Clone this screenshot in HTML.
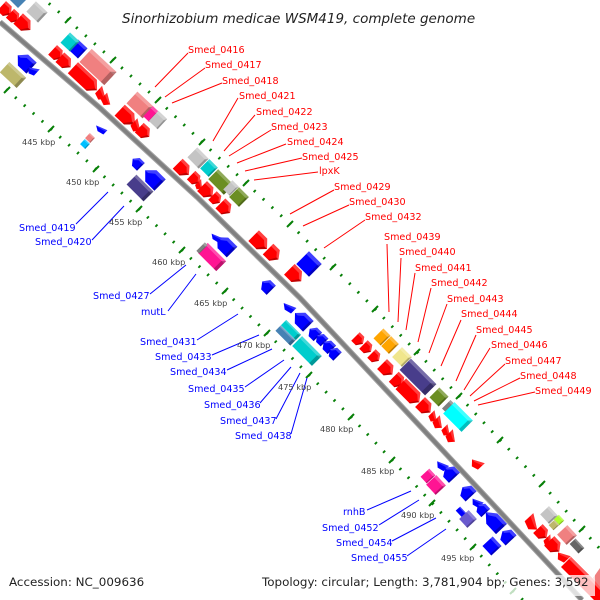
<!DOCTYPE html>
<html><head><meta charset="utf-8"><style>
html,body{margin:0;padding:0;background:#fff;width:600px;height:600px;overflow:hidden}
svg{display:block}
text{font-family:"DejaVu Sans","Liberation Sans",sans-serif}
.r text{font-size:9.6px;fill:#f00}
.b text{font-size:9.6px;fill:#00f}
.k text{font-size:8.2px;fill:#444}
</style></head><body>
<svg width="600" height="600" viewBox="0 0 600 600" xmlns="http://www.w3.org/2000/svg">
<defs>
<g id="x"><rect x="-.5" y="-.5" width="1" height="1" fill="currentColor"/><polygon points="-.5,-.5 .5,-.5 .5,-.28 -.5,-.28" fill="#fff" opacity=".25"/><polygon points=".5,-.5 .5,.5 .36,.5 .36,-.28" fill="#000" opacity=".25"/></g>
<g id="a"><polygon points="-.5,-.5 .15,-.5 .55,0 .15,.5 -.5,.5" fill="currentColor"/><polygon points="-.5,-.5 .15,-.5 .55,0 .35,0 .08,-.28 -.5,-.28" fill="#fff" opacity=".25"/><polygon points=".55,0 .15,.5 .05,.5 .35,0" fill="#000" opacity=".25"/></g>
<g id="f"><polygon points=".5,-.5 -.15,-.5 -.55,0 -.15,.5 .5,.5" fill="currentColor"/><polygon points=".5,-.5 -.15,-.5 -.55,0 -.35,0 -.08,-.28 .5,-.28" fill="#fff" opacity=".25"/><polygon points=".5,-.5 .5,.5 .36,.5 .36,-.28" fill="#000" opacity=".25"/></g>
<g id="L"><polygon points="-.5,-.5 .28,-.5 .5,0 .28,.5 -.5,.5" fill="currentColor"/><polygon points="-.5,-.5 .28,-.5 .5,0 .42,0 .24,-.28 -.5,-.28" fill="#fff" opacity=".25"/><polygon points=".5,0 .28,.5 .22,.5 .42,0" fill="#000" opacity=".25"/></g>
<g id="t"><polygon points="-.5,-.5 .55,.1 .1,.55 -.5,.35" fill="currentColor"/><polygon points="-.5,-.5 .55,.1 .25,.1 -.5,-.2" fill="#fff" opacity=".2"/></g>
<g id="u"><polygon points=".5,-.5 -.55,.1 -.1,.55 .5,.35" fill="currentColor"/><polygon points=".5,-.5 -.55,.1 -.25,.1 .5,-.2" fill="#fff" opacity=".2"/></g>
</defs>

<polyline points="0,22 100,108 197,197 300,298 433,440 557,573 582,600" fill="none" stroke="#a4a4a4" stroke-width="5.6"/>
<polyline points="0,22 100,108 197,197 300,298 433,440 557,573 582,600" fill="none" stroke="#808080" stroke-width="3.6"/>

<g fill="none" stroke="#088008">
<polyline points="45,0 68,20 113,60 158,100 202,142 246,183 290,224 333,267 375,309 417,352 459,396 500,440 542,484 582,529 600,549" pathLength="64.7" stroke-width="3" stroke-dasharray=".16 .84" stroke-dashoffset=".58"/>
<polyline points="0,84 7,90 51,129 96,169 139,209 182,250 225,291 267,333 309,375 351,417 392,460 432,503 473,547 513,591 523,600" pathLength="61.86" stroke-width="3" stroke-dasharray=".16 .84" stroke-dashoffset=".32"/>
<path stroke-width="2" d="M65,23l6,-6M110,63l6,-6M155,103l6,-6M199,145l6,-6M243,186l6,-6M287,227l6,-6M330,270l6,-6M372,312l6,-6M414,355l6,-6M456,399l6,-6M497,443l6,-6M539,487l6,-6M579,532l6,-6M4,93l6,-6M48,132l6,-6M93,172l6,-6M136,212l6,-6M179,253l6,-6M222,294l6,-6M264,336l6,-6M306,378l6,-6M348,420l6,-6M389,463l6,-6M429,506l6,-6M470,550l6,-6M510,594l6,-6"/>
</g>

<!-- red genes -->
<g color="#f00">
<use href="#a" transform="translate(6 10) rotate(43) scale(12 13)"/>
<use href="#a" transform="translate(14 17) rotate(43) scale(11 12)"/>
<use href="#a" transform="translate(24 24) rotate(43) scale(16 14)"/>
<use href="#a" transform="translate(57 54) rotate(43) scale(12 13)"/>
<use href="#a" transform="translate(65 62) rotate(43) scale(14 13)"/>
<use href="#L" transform="translate(85 79) rotate(43) scale(33 15)"/>
<use href="#t" transform="translate(102 94) rotate(43) scale(11 12)"/>
<use href="#t" transform="translate(107 100) rotate(43) scale(10 11)"/>
<use href="#a" transform="translate(127 117) rotate(43) scale(20 15)"/>
<use href="#t" transform="translate(137 126) rotate(43) scale(10 12)"/>
<use href="#a" transform="translate(144 132) rotate(43) scale(13 13)"/>
<use href="#a" transform="translate(183 169) rotate(45) scale(15 14)"/>
<use href="#a" transform="translate(195 179) rotate(45) scale(11 12)"/>
<use href="#t" transform="translate(200 185) rotate(45) scale(7 10)"/>
<use href="#a" transform="translate(207 191) rotate(45) scale(14 14)"/>
<use href="#a" transform="translate(216 199) rotate(45) scale(10 12)"/>
<use href="#a" transform="translate(225 208) rotate(45) scale(13 14)"/>
<use href="#a" transform="translate(260 242) rotate(45) scale(18 15)"/>
<use href="#a" transform="translate(273 254) rotate(45) scale(14 15)"/>
<use href="#a" transform="translate(295 275) rotate(45) scale(16 15)"/>
<use href="#a" transform="translate(359 340) rotate(45) scale(10 12)"/>
<use href="#a" transform="translate(367 348) rotate(45) scale(10 12)"/>
<use href="#a" transform="translate(375 357) rotate(45) scale(10 12)"/>
<use href="#a" transform="translate(387 369) rotate(45) scale(14 14)"/>
<use href="#a" transform="translate(398 381) rotate(45) scale(12 14)"/>
<use href="#L" transform="translate(410 393) rotate(45) scale(26 15)"/>
<use href="#a" transform="translate(425 407) rotate(45) scale(14 14)"/>
<use href="#t" transform="translate(434 417) rotate(46) scale(9 10)"/>
<use href="#t" transform="translate(439 423) rotate(46) scale(10 12)"/>
<use href="#t" transform="translate(447 431) rotate(46) scale(9 10)"/>
<use href="#t" transform="translate(452 437) rotate(46) scale(10 12)"/>
<use href="#u" transform="translate(477 463) rotate(47) scale(11 11)"/>
<use href="#t" transform="translate(533 523) rotate(47) scale(14 14)"/>
<use href="#a" transform="translate(542 533) rotate(47) scale(12 13)"/>
<use href="#t" transform="translate(549 541) rotate(47) scale(8 11)"/>
<use href="#a" transform="translate(554 546) rotate(47) scale(14 14)"/>
<use href="#u" transform="translate(563 556) rotate(47) scale(11 11)"/>
<polygon points="571,557 600,586 600,600 594,600 561,567" fill="#f00"/>
<polygon points="571,557 600,586 600,590 569,559" fill="#ff5c5c"/>
</g>

<!-- blue genes -->
<g color="#00f">
<use href="#x" transform="translate(78 49) rotate(43) scale(13 14)"/>
<use href="#f" transform="translate(25 62) rotate(43) scale(18 15)"/>
<use href="#u" transform="translate(33 70) rotate(43) scale(9 10)"/>
<use href="#u" transform="translate(101 129) rotate(43) scale(11 7)"/>
<use href="#f" transform="translate(137 163) rotate(45) scale(11 11)"/>
<use href="#f" transform="translate(153 178) rotate(45) scale(20 16)"/>
<use href="#f" transform="translate(225 245) rotate(45) scale(20 15)"/>
<use href="#u" transform="translate(216 237) rotate(45) scale(10 7)"/>
<use href="#f" transform="translate(267 286) rotate(45) scale(12 13)"/>
<use href="#x" transform="translate(309 264) rotate(45) scale(18 18)"/>
<use href="#u" transform="translate(289 307) rotate(45) scale(12 9)"/>
<use href="#f" transform="translate(302 320) rotate(45) scale(18 15)"/>
<use href="#f" transform="translate(314 333) rotate(45) scale(11 12)"/>
<use href="#f" transform="translate(321 339) rotate(45) scale(10 11)"/>
<use href="#f" transform="translate(328 346) rotate(45) scale(11 12)"/>
<use href="#f" transform="translate(334 353) rotate(45) scale(10 12)"/>
<use href="#u" transform="translate(442 465) rotate(47) scale(11 9)"/>
<use href="#f" transform="translate(450 473) rotate(47) scale(13 15)"/>
<use href="#f" transform="translate(467 492) rotate(47) scale(12 15)"/>
<use href="#u" transform="translate(477 502) rotate(47) scale(10 9)"/>
<use href="#f" transform="translate(482 509) rotate(47) scale(11 12)"/>
<use href="#f" transform="translate(494 521) rotate(47) scale(22 15)"/>
<use href="#f" transform="translate(507 536) rotate(47) scale(12 15)"/>
<use href="#x" transform="translate(492 546) rotate(47) scale(13 14)"/>
<use href="#x" transform="translate(462 513) rotate(47) scale(12 6)"/>
<use href="#x" color="#6a5acd" transform="translate(468 519) rotate(47) scale(12 13)"/>
</g>

<!-- boxes -->
<polygon points="10,0 26,0 18,8" fill="#4682b4"/>
<use href="#x" color="#c4c4c4" transform="translate(37 12) rotate(43) scale(16 14)"/>
<use href="#x" color="#00cdcd" transform="translate(70 42) rotate(43) scale(13 14)"/>
<use href="#x" color="#f08080" transform="translate(98 67) rotate(43) scale(34 18)"/>
<use href="#x" color="#f08080" transform="translate(140 105) rotate(43) scale(22 16)"/>
<use href="#x" color="#ff1493" transform="translate(151 114) rotate(43) scale(8 14)"/>
<use href="#x" color="#c4c4c4" transform="translate(158 120) rotate(43) scale(12 14)"/>
<use href="#x" color="#bdb76b" transform="translate(13 75) rotate(43) scale(23 14)"/>
<use href="#x" color="#00bfff" transform="translate(85 144) rotate(43) scale(7 7)"/>
<use href="#x" color="#f08080" transform="translate(90 138) rotate(43) scale(7 7)"/>
<use href="#x" color="#483d8b" transform="translate(140 188) rotate(45) scale(24 14)"/>
<use href="#x" color="#c4c4c4" transform="translate(198 158) rotate(45) scale(16 14)"/>
<use href="#x" color="#00cdcd" transform="translate(209 168) rotate(45) scale(12 13)"/>
<use href="#x" color="#6b8e23" transform="translate(221 182) rotate(45) scale(22 14)"/>
<use href="#x" color="#c4c4c4" transform="translate(231 188) rotate(45) scale(9 13)"/>
<use href="#x" color="#6b8e23" transform="translate(239 197) rotate(45) scale(14 14)"/>
<use href="#x" color="#ff1493" transform="translate(212 257) rotate(45) scale(26 14)"/>
<use href="#x" color="#808080" transform="translate(202 248) rotate(45) scale(4 12)"/>
<use href="#x" color="#00cdcd" transform="translate(307 351) rotate(45) scale(28 14)"/>
<use href="#x" color="#00cdcd" transform="translate(291 330) rotate(45) scale(21 7.5)"/>
<use href="#x" color="#4682b4" transform="translate(285.5 335.5) rotate(45) scale(21 7.5)"/>
<use href="#x" color="#ffa500" transform="translate(382 337) rotate(45) scale(10 14)"/>
<use href="#x" color="#ffa500" transform="translate(390 345) rotate(45) scale(11 14)"/>
<use href="#x" color="#f0e68c" transform="translate(402 357) rotate(45) scale(14 14)"/>
<use href="#x" color="#483d8b" transform="translate(418 377) rotate(45) scale(36 16)"/>
<use href="#x" color="#6b8e23" transform="translate(439 397) rotate(45) scale(13 14)"/>
<use href="#x" color="#808080" transform="translate(448 406) rotate(45) scale(5 12)"/>
<use href="#x" color="#00ffff" transform="translate(458 417) rotate(45) scale(26 16)"/>
<use href="#x" color="#ff1493" transform="translate(428 476) rotate(47) scale(9 12)"/>
<use href="#x" color="#ff1493" transform="translate(436 485) rotate(47) scale(14 14)"/>
<use href="#x" color="#c4c4c4" transform="translate(549 515) rotate(47) scale(13 12)"/>
<use href="#x" color="#adff2f" transform="translate(559 520) rotate(47) scale(8 7)"/>
<use href="#x" color="#bdb76b" transform="translate(554 525) rotate(47) scale(7 8)"/>
<use href="#x" color="#f08080" transform="translate(567 535) rotate(47) scale(14 14)"/>
<use href="#x" color="#666" transform="translate(577 546) rotate(47) scale(13 8)"/>
<polygon points="600,568 600,587 593,578" fill="#f08080"/>

<!-- connectors -->
<path fill="none" stroke="#f00" d="M188,53L155,87M205,68L165,97M222,83L172,103M238,98L213,141M255,115L224,151M271,130L229,156M286,144L237,163M302,158L245,171M318,172L254,180M334,190L290,214M349,205L303,226M365,220L324,248M387,244L389,312M401,258L398,322M415,273L406,330M431,288L418,342M447,304L429,353M461,320L441,366M476,335L456,381M490,348L464,390M505,364L470,396M520,378L474,401M535,392L478,405"/>
<path fill="none" stroke="#00f" d="M76,224L108,192M92,240L124,206M150,294L186,265M168,311L196,274M197,340L238,314M212,355L259,335M227,370L272,349M245,387L284,360M260,403L291,367M276,419L300,373M291,434L307,378M367,510L411,491M379,525L419,500M392,541L436,518M407,556L446,529"/>

<g class="r">
<text x="188" y="53">Smed_0416</text><text x="205" y="68">Smed_0417</text><text x="222" y="84">Smed_0418</text><text x="239" y="99">Smed_0421</text><text x="256" y="115">Smed_0422</text><text x="271" y="130">Smed_0423</text><text x="287" y="145">Smed_0424</text><text x="302" y="160">Smed_0425</text><text x="319" y="174">lpxK</text><text x="334" y="190">Smed_0429</text><text x="349" y="205">Smed_0430</text><text x="365" y="220">Smed_0432</text><text x="384" y="240">Smed_0439</text><text x="399" y="255">Smed_0440</text><text x="415" y="271">Smed_0441</text><text x="431" y="286">Smed_0442</text><text x="447" y="302">Smed_0443</text><text x="461" y="317">Smed_0444</text><text x="476" y="333">Smed_0445</text><text x="491" y="348">Smed_0446</text><text x="505" y="364">Smed_0447</text><text x="520" y="379">Smed_0448</text><text x="535" y="394">Smed_0449</text>
</g>
<g class="b">
<text x="19" y="231">Smed_0419</text><text x="35" y="245">Smed_0420</text><text x="93" y="299">Smed_0427</text><text x="141" y="315">mutL</text><text x="140" y="345">Smed_0431</text><text x="155" y="360">Smed_0433</text><text x="170" y="375">Smed_0434</text><text x="188" y="392">Smed_0435</text><text x="204" y="408">Smed_0436</text><text x="220" y="424">Smed_0437</text><text x="235" y="439">Smed_0438</text><text x="343" y="515">rnhB</text><text x="322" y="531">Smed_0452</text><text x="336" y="546">Smed_0454</text><text x="351" y="561">Smed_0455</text>
</g>
<g class="k">
<text x="22" y="145">445 kbp</text><text x="66" y="185">450 kbp</text><text x="109" y="225">455 kbp</text><text x="152" y="265">460 kbp</text><text x="194" y="306">465 kbp</text><text x="237" y="348">470 kbp</text><text x="278" y="390">475 kbp</text><text x="320" y="432">480 kbp</text><text x="361" y="474">485 kbp</text><text x="401" y="518">490 kbp</text><text x="441" y="561">495 kbp</text>
</g>

<text x="122" y="23" font-size="13.5" font-style="italic" fill="#222">Sinorhizobium medicae WSM419, complete genome</text>
<rect x="258" y="575" width="337" height="21" fill="#fff" opacity=".75"/>
<text x="9" y="586" font-size="11.9" fill="#222">Accession: NC_009636</text>
<text x="262" y="586" font-size="11.9" fill="#222">Topology: circular; Length: 3,781,904 bp; Genes: 3,592</text>
</svg>
</body></html>
